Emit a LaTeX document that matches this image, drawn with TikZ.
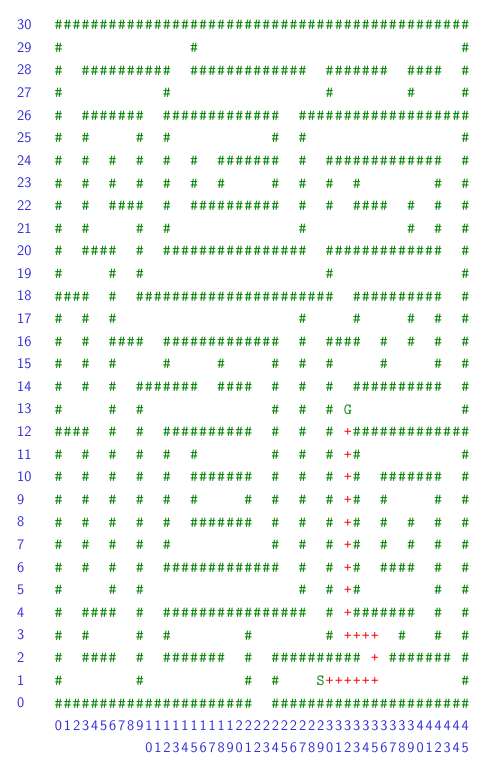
\documentclass[tikz,border=0pt]{standalone}
\usepackage{fontspec}
\usepackage{tikz}

\definecolor{wallgreen}{RGB}{0,128,0}
\definecolor{labelblue}{RGB}{52,44,210}
\definecolor{trailred}{RGB}{255,0,0}

\begin{document}
\begin{tikzpicture}[x=9.04pt, y=22.6pt,
	cell/.style = {inner sep=0pt, anchor=base, yshift=-5.3pt, font=\fontsize{15.5}{17}\selectfont\ttfamily},
	wall/.style = {cell, text=wallgreen},
	trail/.style = {cell, text=trailred},
	num/.style = {inner sep=0pt, yshift=-5pt, text=labelblue, font=\fontsize{14.6}{16}\selectfont\sffamily}]
	\useasboundingbox (-58.5pt,-71.3pt) rectangle (427.5pt,702.7pt);
	% walls of the maze, row / segments start/end
	\foreach \r/\segs in {
		30/{0/45},
		29/{0/0,15/15,45/45},
		28/{0/0,3/12,15/27,30/36,39/42,45/45},
		27/{0/0,12/12,30/30,39/39,45/45},
		26/{0/0,3/9,12/24,27/45},
		25/{0/0,3/3,9/9,12/12,24/24,27/27,45/45},
		24/{0/0,3/3,6/6,9/9,12/12,15/15,18/24,27/27,30/42,45/45},
		23/{0/0,3/3,6/6,9/9,12/12,15/15,18/18,24/24,27/27,30/30,33/33,42/42,45/45},
		22/{0/0,3/3,6/9,12/12,15/24,27/27,30/30,33/36,39/39,42/42,45/45},
		21/{0/0,3/3,9/9,12/12,27/27,39/39,42/42,45/45},
		20/{0/0,3/6,9/9,12/27,30/42,45/45},
		19/{0/0,6/6,9/9,30/30,45/45},
		18/{0/3,6/6,9/30,33/42,45/45},
		17/{0/0,3/3,6/6,27/27,33/33,39/39,42/42,45/45},
		16/{0/0,3/3,6/9,12/24,27/27,30/33,36/36,39/39,42/42,45/45},
		15/{0/0,3/3,6/6,12/12,18/18,24/24,27/27,30/30,36/36,42/42,45/45},
		14/{0/0,3/3,6/6,9/15,18/21,24/24,27/27,30/30,33/42,45/45},
		13/{0/0,6/6,9/9,24/24,27/27,30/30,45/45},
		12/{0/3,6/6,9/9,12/21,24/24,27/27,30/30,33/45},
		11/{0/0,3/3,6/6,9/9,12/12,15/15,24/24,27/27,30/30,33/33,45/45},
		10/{0/0,3/3,6/6,9/9,12/12,15/21,24/24,27/27,30/30,33/33,36/42,45/45},
		9/{0/0,3/3,6/6,9/9,12/12,15/15,21/21,24/24,27/27,30/30,33/33,36/36,42/42,45/45},
		8/{0/0,3/3,6/6,9/9,12/12,15/21,24/24,27/27,30/30,33/33,36/36,39/39,42/42,45/45},
		7/{0/0,3/3,6/6,9/9,12/12,24/24,27/27,30/30,33/33,36/36,39/39,42/42,45/45},
		6/{0/0,3/3,6/6,9/9,12/24,27/27,30/30,33/33,36/39,42/42,45/45},
		5/{0/0,6/6,9/9,27/27,30/30,33/33,42/42,45/45},
		4/{0/0,3/6,9/9,12/27,30/30,33/39,42/42,45/45},
		3/{0/0,3/3,9/9,12/12,21/21,30/30,38/38,42/42,45/45},
		2/{0/0,3/6,9/9,12/18,21/21,24/33,37/43,45/45},
		1/{0/0,9/9,21/21,24/24,45/45},
		0/{0/21,24/45}}
		\foreach \a/\b in \segs
			\foreach \c in {\a,...,\b}
				\node[wall] (w-\r-\c) at (\c,\r) {\#};
	% start, goal and the path found
	\node[wall] (start) at (29,1) {S};
	\node[wall] (goal) at (32,13) {G};
	\foreach \c/\r in {30/1,31/1,32/1,33/1,34/1,35/1,35/2,35/3,34/3,33/3,32/3,
		32/4,32/5,32/6,32/7,32/8,32/9,32/10,32/11,32/12}
		\node[trail] (p-\c-\r) at (\c,\r) {+};
	% row numbers
	\foreach \r in {0,...,30}
		\node[num, anchor=base west] (r\r) at (-4.59,\r) {\r};
	% column numbers
	\foreach \c in {0,...,45} {
		\pgfmathtruncatemacro{\tens}{\c<10 ? \c : floor(\c/10)}
		\node[num, anchor=base] (c\c) at (\c,-1) {\tens};
	}
	\foreach \c in {10,...,45} {
		\pgfmathtruncatemacro{\ones}{mod(\c,10)}
		\node[num, anchor=base] (u\c) at (\c,-2) {\ones};
	}
\end{tikzpicture}
\end{document}
